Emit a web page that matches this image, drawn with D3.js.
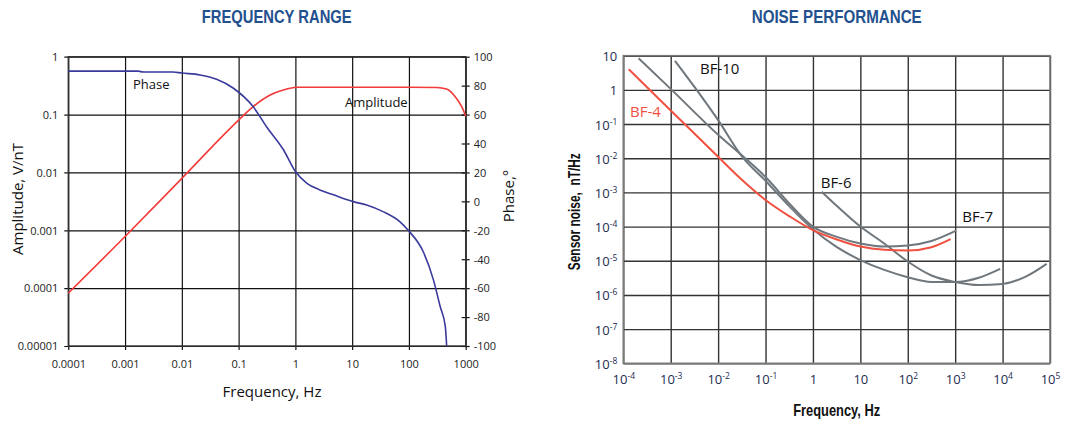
<!DOCTYPE html>
<html><head><meta charset="utf-8">
<script src="https://cdn.jsdelivr.net/npm/d3@7"></script>
<style>
body{margin:0;background:#fff;}
svg{display:block;}
</style></head>
<body>
<script>
// ---------- LEFT CHART DATA: FREQUENCY RANGE ----------
const ampFreq  = [1e-4, 1e-3, 1e-2, 0.1, 0.18, 0.36, 0.61, 1.06, 10, 100, 310, 460, 690, 850, 1000];
const ampValue = [8.2e-5, 7.8e-4, 7.9e-3, 0.08, 0.137, 0.218, 0.266, 0.296, 0.296, 0.296, 0.294, 0.277, 0.19, 0.137, 0.094];
const phaseFreq  = [1e-4, 1.7e-3, 2.1e-3, 7e-3, 0.01, 0.021, 0.041, 0.081, 0.18, 0.31, 0.62, 1, 1.6, 2.7, 4.7, 10.5, 18, 35, 69, 98, 178, 270, 355, 437, 462];
const phaseValue = [90, 90, 89.4, 89.4, 88.7, 87.4, 84.4, 78.2, 65.5, 51.6, 35.5, 20.6, 12.5, 7.9, 4.5, -0.2, -2.5, -7.1, -14, -20.2, -34.7, -54.3, -72.7, -86.5, -100];
const freqTicks = [1e-4, 1e-3, 1e-2, 0.1, 1, 10, 100, 1000];
const freqTickLabels = ["0.0001", "0.001", "0.01", "0.1", "1", "10", "100", "1000"];
const ampTicks = [1e-5, 1e-4, 1e-3, 1e-2, 0.1, 1];
const ampTickLabels = ["0.00001", "0.0001", "0.001", "0.01", "0.1", "1"];
const phaseTicks = [-100, -80, -60, -40, -20, 0, 20, 40, 60, 80, 100];

// ---------- RIGHT CHART DATA: NOISE PERFORMANCE ----------
const bf4Freq  = [1.3e-4, 1e-3, 0.01, 0.03, 0.1, 0.32, 1, 3.2, 10, 32, 100, 316, 800];
const bf4Noise = [4.0, 0.25, 0.011, 2.5e-3, 6e-4, 2.0e-4, 7.9e-5, 4.2e-5, 2.6e-5, 2.1e-5, 2.0e-5, 2.5e-5, 4.3e-5];
const bf7Freq  = [2.1e-4, 1.05e-3, 0.011, 0.032, 0.106, 0.32, 1, 3.2, 10, 32, 100, 316, 1050];
const bf7Noise = [8.4, 1.0, 0.043, 0.012, 2.6e-3, 4.7e-4, 1e-4, 5e-5, 3.2e-5, 2.6e-5, 2.8e-5, 3.8e-5, 7.6e-5];
const bf10Freq  = [1.23e-3, 3.2e-3, 0.01, 0.032, 0.1, 0.32, 1, 3.2, 10, 32, 100, 316, 1000, 3160, 8900];
const bf10Noise = [7.1, 1.2, 0.13, 0.0112, 2.2e-3, 3.9e-4, 8.3e-5, 2.5e-5, 1.05e-5, 5.4e-6, 3.3e-6, 2.4e-6, 2.4e-6, 3.2e-6, 5.8e-6];
const bf6Freq  = [1.53, 3.2, 10, 32, 100, 316, 1000, 3160, 1e4, 3.16e4, 8.5e4];
const bf6Noise = [1.05e-3, 4e-4, 1e-4, 3.2e-5, 9.5e-6, 3.7e-6, 2.4e-6, 1.95e-6, 2.1e-6, 3.5e-6, 8.1e-6];
const noiseXExp = [-4, -3, -2, -1, 0, 1, 2, 3, 4, 5];
const noiseYExp = [-8, -7, -6, -5, -4, -3, -2, -1, 0, 1];

const W = 1065, H = 428;
const svg = d3.select("body").append("svg").attr("width", W).attr("height", H);
svg.append("rect").attr("width", W).attr("height", H).attr("fill", "#fff");

const sans = "'Open Sans', 'Noto Sans', sans-serif";
const narrow = "'Liberation Sans Narrow', 'Liberation Sans', 'DejaVu Sans Condensed', sans-serif";
const titleBlue = "#23508e";

// ================= LEFT CHART =================
const L = {x0: 68.3, x1: 465.7, y0: 56.7, y1: 346};
const xL = d3.scaleLog().domain([1e-4, 1000]).range([L.x0, L.x1]);
const yA = d3.scaleLog().domain([1e-5, 1]).range([L.y1, L.y0]);
const yP = d3.scaleLinear().domain([-100, 100]).range([L.y1, L.y0]);
const gridCol = "#111";

const gLY = svg.append("g").attr("transform", `translate(${L.x0},0)`)
  .call(d3.axisLeft(yA).tickValues(ampTicks).tickFormat((d, i) => ampTickLabels[i])
    .tickSize(-(L.x1 - L.x0)).tickSizeOuter(0));
gLY.select(".domain").remove();
gLY.selectAll(".tick line").attr("x1", -4).attr("stroke", gridCol).attr("stroke-width", 1.2);
gLY.selectAll(".tick text").attr("x", -10).attr("dy", "0.35em")
  .attr("font-family", sans).attr("font-size", 11).attr("fill", "#222");

const gLX = svg.append("g").attr("transform", `translate(0,${L.y1})`)
  .call(d3.axisBottom(xL).tickValues(freqTicks).tickFormat((d, i) => freqTickLabels[i])
    .tickSize(-(L.y1 - L.y0)).tickSizeOuter(0));
gLX.select(".domain").remove();
gLX.selectAll(".tick line").attr("y1", 4).attr("stroke", gridCol).attr("stroke-width", 1.2);
gLX.selectAll(".tick text").attr("y", 14).attr("dy", "0.71em")
  .attr("font-family", sans).attr("font-size", 11).attr("fill", "#222");

const gLP = svg.append("g").attr("transform", `translate(${L.x1},0)`)
  .call(d3.axisRight(yP).tickValues(phaseTicks).tickFormat(d => String(d)).tickSize(4).tickSizeOuter(0));
gLP.select(".domain").remove();
gLP.selectAll(".tick line").attr("x1", -4).attr("stroke", gridCol).attr("stroke-width", 1.2);
gLP.selectAll(".tick text").attr("x", 8).attr("dy", "0.35em")
  .attr("font-family", sans).attr("font-size", 11).attr("fill", "#222");

svg.append("rect").attr("x", L.x0).attr("y", L.y0).attr("width", L.x1 - L.x0).attr("height", L.y1 - L.y0)
  .attr("fill", "none").attr("stroke", "#333").attr("stroke-width", 1.4);

const ampData = ampFreq.map((f, i) => [f, ampValue[i]]);
const phaseData = phaseFreq.map((f, i) => [f, phaseValue[i]]);
svg.append("path").datum(ampData).attr("fill", "none").attr("stroke", "#f23a3a").attr("stroke-width", 1.6)
  .attr("d", d3.line().x(d => xL(d[0])).y(d => yA(d[1])).curve(d3.curveMonotoneX));
svg.append("path").datum(phaseData).attr("fill", "none").attr("stroke", "#3a3a9c").attr("stroke-width", 1.6)
  .attr("d", d3.line().x(d => xL(d[0])).y(d => yP(d[1])).curve(d3.curveMonotoneX));

svg.append("text").attr("x", 133).attr("y", 89).text("Phase")
  .attr("font-family", sans).attr("font-size", 13).attr("fill", "#111");
svg.append("text").attr("x", 345).attr("y", 107).text("Amplitude")
  .attr("font-family", sans).attr("font-size", 13).attr("fill", "#111");

svg.append("text").attr("transform", "translate(23,199) rotate(-90)").attr("text-anchor", "middle")
  .text("Amplitude, V/nT").attr("font-family", sans).attr("font-size", 15).attr("fill", "#111");
svg.append("text").attr("transform", "translate(514,196) rotate(-90)").attr("text-anchor", "middle")
  .text("Phase,°").attr("font-family", sans).attr("font-size", 15).attr("fill", "#111");
svg.append("text").attr("x", 272).attr("y", 397).attr("text-anchor", "middle")
  .text("Frequency, Hz").attr("font-family", sans).attr("font-size", 15).attr("fill", "#111");

svg.append("text").attr("x", 276.7).attr("y", 23).attr("text-anchor", "middle")
  .text("FREQUENCY RANGE").attr("font-family", narrow).attr("font-weight", "bold")
  .attr("font-size", 19).attr("fill", titleBlue)
  .attr("textLength", 150).attr("lengthAdjust", "spacingAndGlyphs");

// ================= RIGHT CHART =================
const R = {x0: 623.3, x1: 1050, y0: 55.7, y1: 363.3};
const xR = d3.scaleLog().domain([1e-4, 1e5]).range([R.x0, R.x1]);
const yR = d3.scaleLog().domain([1e-8, 10]).range([R.y1, R.y0]);
const gridR = "#333";
const labCol = "#1d2b4f";

function supLabel(sel, e) {
  sel.text(null);
  if (e === 0) { sel.append("tspan").text("1"); return; }
  if (e === 1) { sel.append("tspan").text("10"); return; }
  sel.append("tspan").text("10");
  sel.append("tspan").attr("dy", -5).attr("font-size", 8.5).text(e < 0 ? "-" + Math.abs(e) : String(e));
}

const gRY = svg.append("g").attr("transform", `translate(${R.x0},0)`)
  .call(d3.axisLeft(yR).tickValues(noiseYExp.map(e => Math.pow(10, e))).tickFormat(() => "")
    .tickSize(-(R.x1 - R.x0)).tickSizeOuter(0));
gRY.select(".domain").remove();
gRY.selectAll(".tick line").attr("stroke", gridR).attr("stroke-width", 1.4);
gRY.selectAll(".tick text").attr("x", -6).attr("dy", "0.38em").attr("text-anchor", "end")
  .attr("font-family", sans).attr("font-size", 13).attr("fill", labCol)
  .each(function(d, i) { supLabel(d3.select(this), noiseYExp[i]); });

const gRX = svg.append("g").attr("transform", `translate(0,${R.y1})`)
  .call(d3.axisBottom(xR).tickValues(noiseXExp.map(e => Math.pow(10, e))).tickFormat(() => "")
    .tickSize(-(R.y1 - R.y0)).tickSizeOuter(0));
gRX.select(".domain").remove();
gRX.selectAll(".tick line").attr("stroke", gridR).attr("stroke-width", 1.4);
gRX.selectAll(".tick text").attr("y", 21).attr("dy", "0").attr("text-anchor", "middle")
  .attr("font-family", sans).attr("font-size", 13).attr("fill", labCol)
  .each(function(d, i) { supLabel(d3.select(this), noiseXExp[i]); });

svg.append("rect").attr("x", R.x0).attr("y", R.y0).attr("width", R.x1 - R.x0).attr("height", R.y1 - R.y0)
  .attr("fill", "none").attr("stroke", "#7a7a7a").attr("stroke-width", 1.6);

const lineR = d3.line().x(d => xR(d[0])).y(d => yR(d[1])).curve(d3.curveMonotoneX);
const grayCurves = [[bf7Freq, bf7Noise], [bf10Freq, bf10Noise], [bf6Freq, bf6Noise]];
grayCurves.forEach(([f, n]) => {
  svg.append("path").datum(f.map((v, i) => [v, n[i]])).attr("fill", "none")
    .attr("stroke", "#6f777d").attr("stroke-width", 2).attr("d", lineR);
});
svg.append("path").datum(bf4Freq.map((v, i) => [v, bf4Noise[i]])).attr("fill", "none")
  .attr("stroke", "#f0503f").attr("stroke-width", 2).attr("d", lineR);

const bfLabels = [
  {t: "BF-10", x: 700, y: 74, c: "#111"},
  {t: "BF-4", x: 630, y: 117, c: "#f0503f"},
  {t: "BF-6", x: 820.7, y: 188, c: "#111"},
  {t: "BF-7", x: 962.3, y: 222, c: "#111"}
];
bfLabels.forEach(l => svg.append("text").attr("x", l.x).attr("y", l.y).text(l.t)
  .attr("font-family", sans).attr("font-size", 15).attr("fill", l.c));

svg.append("text").attr("transform", "translate(580,211.7) rotate(-90)").attr("text-anchor", "middle")
  .text("Sensor noise,  nT/Hz").attr("font-family", narrow).attr("font-weight", "bold")
  .attr("font-size", 16).attr("fill", "#111").style("white-space", "pre")
  .attr("textLength", 117).attr("lengthAdjust", "spacingAndGlyphs");
svg.append("text").attr("x", 836.7).attr("y", 416).attr("text-anchor", "middle")
  .text("Frequency, Hz").attr("font-family", narrow).attr("font-weight", "bold")
  .attr("font-size", 17).attr("fill", "#111")
  .attr("textLength", 87).attr("lengthAdjust", "spacingAndGlyphs");

svg.append("text").attr("x", 836.7).attr("y", 23).attr("text-anchor", "middle")
  .text("NOISE PERFORMANCE").attr("font-family", narrow).attr("font-weight", "bold")
  .attr("font-size", 19).attr("fill", titleBlue)
  .attr("textLength", 170).attr("lengthAdjust", "spacingAndGlyphs");
</script>
</body></html>
